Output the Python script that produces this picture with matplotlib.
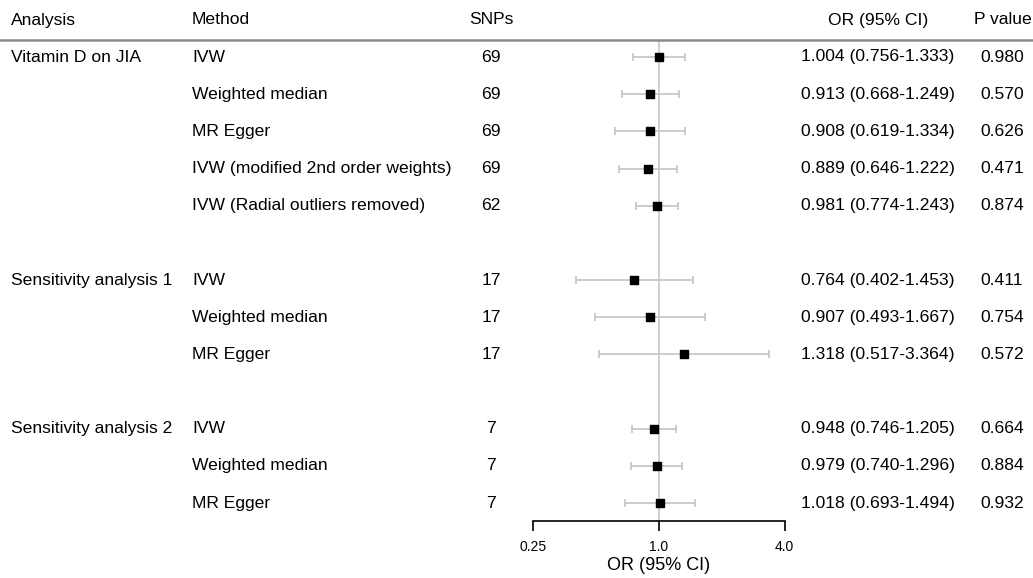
import numpy as np
import matplotlib
matplotlib.use('Agg')
import matplotlib.pyplot as plt
import matplotlib.transforms as mtransforms

plt.rcParams['font.family'] = ['Liberation Sans', 'DejaVu Sans']

# data
analysis = ["Vitamin D on JIA", "", "", "", "",
            "Sensitivity analysis 1", "", "",
            "Sensitivity analysis 2", "", ""]
methods = ["IVW", "Weighted median", "MR Egger", "IVW (modified 2nd order weights)",
           "IVW (Radial outliers removed)",
           "IVW", "Weighted median", "MR Egger",
           "IVW", "Weighted median", "MR Egger"]
snps = [69, 69, 69, 69, 62, 17, 17, 17, 7, 7, 7]
odds = [1.004, 0.913, 0.908, 0.889, 0.981, 0.764, 0.907, 1.318, 0.948, 0.979, 1.018]
ci_lo = [0.756, 0.668, 0.619, 0.646, 0.774, 0.402, 0.493, 0.517, 0.746, 0.740, 0.693]
ci_hi = [1.333, 1.249, 1.334, 1.222, 1.243, 1.453, 1.667, 3.364, 1.205, 1.296, 1.494]
pvals = ["0.980", "0.570", "0.626", "0.471", "0.874", "0.411", "0.754", "0.572",
         "0.664", "0.884", "0.932"]
rows = [0, 1, 2, 3, 4, 6, 7, 8, 10, 11, 12]  # blank rows between groups
xticks = [0.25, 1.0, 4.0]
xticklabels = ["0.25", "1.0", "4.0"]

W, H = 1033, 578
fig = plt.figure(figsize=(W / 100, H / 100), dpi=100)

# forest panel, placed in pixel terms
x0, x1 = 533, 784.5
ytop, ybot = 40, 521
ax = fig.add_axes([x0 / W, 1 - ybot / H, (x1 - x0) / W, (ybot - ytop) / H])
row_h = 37.17
ax.set_xscale('log', base=2)
ax.set_xlim(0.25, 4)
ax.set_ylim((ybot - 57) / row_h, -(57 - ytop) / row_h)

ax.axvline(1, color='#c8c8c8', lw=1.2, zorder=0)
err = [np.array(odds) - np.array(ci_lo), np.array(ci_hi) - np.array(odds)]
ax.errorbar(odds, rows, xerr=err, fmt='none', ecolor='#c4c4c4', elinewidth=1.2,
            capsize=3, capthick=1.2, zorder=1)
ax.scatter(odds, rows, marker='s', s=36, color='black', zorder=2)

for s in ['top', 'right', 'left']:
    ax.spines[s].set_visible(False)
ax.spines['bottom'].set_linewidth(1.2)
ax.set_yticks([])
ax.set_xticks(xticks)
ax.set_xticklabels(xticklabels)
ax.minorticks_off()
ax.tick_params(axis='x', length=7, width=1.2, labelsize=10, pad=7)
ax.set_xlabel('OR (95% CI)', fontsize=13, labelpad=2)

# text columns: figure x, data y
tr = mtransforms.blended_transform_factory(fig.transFigure, ax.transData)
fs = 12.6
for r, a, m, n, o, lo, hi, p in zip(rows, analysis, methods, snps, odds, ci_lo, ci_hi, pvals):
    ax.text(11 / W, r, a, transform=tr, ha='left', va='center', fontsize=fs, clip_on=False)
    ax.text(192 / W, r, m, transform=tr, ha='left', va='center', fontsize=fs, clip_on=False)
    ax.text(491 / W, r, str(n), transform=tr, ha='center', va='center', fontsize=fs, clip_on=False)
    ax.text(878 / W, r, '%.3f (%.3f-%.3f)' % (o, lo, hi), transform=tr, ha='center',
            va='center', fontsize=fs, clip_on=False)
    ax.text(1002 / W, r, p, transform=tr, ha='center', va='center', fontsize=fs, clip_on=False)

# header
hy = 1 - 20 / H
fig.text(11 / W, hy, 'Analysis', ha='left', va='center', fontsize=fs)
fig.text(192 / W, hy, 'Method', ha='left', va='center', fontsize=fs)
fig.text(491 / W, hy, 'SNPs', ha='center', va='center', fontsize=fs)
fig.text(878 / W, hy, 'OR (95% CI)', ha='center', va='center', fontsize=fs)
fig.text(1003 / W, hy, 'P value', ha='center', va='center', fontsize=fs)
fig.add_artist(plt.Line2D([0, 1], [1 - 39.5 / H, 1 - 39.5 / H], transform=fig.transFigure,
                          color='#8a8a8a', lw=1.8))

fig.savefig('out.png', dpi=100)
